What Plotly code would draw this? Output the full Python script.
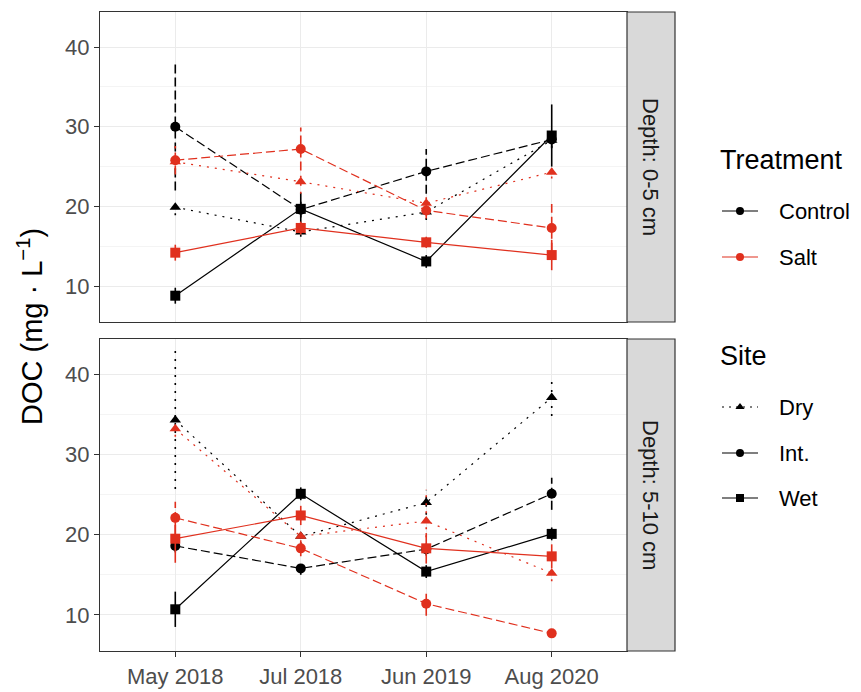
import plotly.graph_objects as go

# ---- data -------------------------------------------------------------
dates = ["May 2018", "Jul 2018", "Jun 2019", "Aug 2020"]
depths = ["Depth: 0-5 cm", "Depth: 5-10 cm"]
treatments = ["Control", "Salt"]
sites = ["Dry", "Int.", "Wet"]

# Depth 0-5 cm: mean DOC (mg/L) and error
control_dry_top = [19.9, 16.8, 19.3, 28.3]
control_dry_top_err = [1.0, 0.6, 1.0, 1.0]
control_int_top = [30.0, 19.6, 24.4, 28.4]
control_int_top_err = [8.0, 1.0, 2.8, 1.0]
control_wet_top = [8.8, 19.7, 13.1, 28.9]
control_wet_top_err = [1.0, 2.0, 0.8, 3.9]
salt_dry_top = [25.6, 23.1, 20.4, 24.3]
salt_dry_top_err = [1.0, 1.5, 1.5, 0.8]
salt_int_top = [25.8, 27.2, 19.5, 17.3]
salt_int_top_err = [1.8, 2.7, 1.0, 3.0]
salt_wet_top = [14.2, 17.3, 15.5, 13.9]
salt_wet_top_err = [1.0, 0.8, 0.7, 1.9]

# Depth 5-10 cm
control_dry_bot = [34.3, 19.8, 24.0, 37.1]
control_dry_bot_err = [8.6, 1.0, 1.5, 2.3]
control_int_bot = [18.6, 15.8, 18.2, 25.1]
control_int_bot_err = [0.8, 0.8, 0.8, 2.0]
control_wet_bot = [10.7, 25.1, 15.4, 20.1]
control_wet_bot_err = [2.2, 0.8, 0.8, 0.8]
salt_dry_bot = [33.2, 19.8, 21.7, 15.2]
salt_dry_bot_err = [1.0, 1.0, 4.0, 1.0]
salt_int_bot = [22.1, 18.3, 11.4, 7.7]
salt_int_bot_err = [2.0, 1.0, 1.5, 0.5]
salt_wet_bot = [19.5, 22.4, 18.3, 17.3]
salt_wet_bot_err = [3.0, 1.2, 1.9, 1.5]

y_ticks = [10, 20, 30, 40]

# ---- styling ----------------------------------------------------------
W, H = 861, 692
FONT = "Liberation Sans, Arial, sans-serif"
TICK_COL = "#4D4D4D"
TEXT_COL = "#1A1A1A"
FRAME_COL = "#333333"
colors = {"Control": "#000000", "Salt": "#E0301E"}
symbols = {"Dry": "triangle-up", "Int.": "circle", "Wet": "square"}
dashes = {"Dry": "2px,6px", "Int.": "9px,4px", "Wet": "solid"}

# panel placement (pixels)
PX_L, PX_R = 100, 627
STRIP_R = 675
panels_px = [(12, 322), (339, 651)]


def px_x(p):
    return p / W


def px_y(p):
    return 1 - p / H


series = [
    (0, "Control", "Dry", control_dry_top, control_dry_top_err),
    (0, "Control", "Int.", control_int_top, control_int_top_err),
    (0, "Control", "Wet", control_wet_top, control_wet_top_err),
    (0, "Salt", "Dry", salt_dry_top, salt_dry_top_err),
    (0, "Salt", "Int.", salt_int_top, salt_int_top_err),
    (0, "Salt", "Wet", salt_wet_top, salt_wet_top_err),
    (1, "Control", "Dry", control_dry_bot, control_dry_bot_err),
    (1, "Control", "Int.", control_int_bot, control_int_bot_err),
    (1, "Control", "Wet", control_wet_bot, control_wet_bot_err),
    (1, "Salt", "Dry", salt_dry_bot, salt_dry_bot_err),
    (1, "Salt", "Int.", salt_int_bot, salt_int_bot_err),
    (1, "Salt", "Wet", salt_wet_bot, salt_wet_bot_err),
]

fig = go.Figure()

for panel, trt, site, vals, errs in series:
    xa = "x" if panel == 0 else "x2"
    ya = "y" if panel == 0 else "y2"
    col = colors[trt]
    # error bars drawn with the site's line type
    ex, ey = [], []
    for d, v, e in zip(dates, vals, errs):
        ex += [d, d, None]
        ey += [v - e, v + e, None]
    fig.add_trace(go.Scatter(
        x=ex, y=ey, mode="lines", xaxis=xa, yaxis=ya,
        line=dict(color=col, width=1.6, dash=dashes[site]),
        showlegend=False, hoverinfo="skip"))
    fig.add_trace(go.Scatter(
        x=dates, y=vals, mode="lines+markers", xaxis=xa, yaxis=ya,
        line=dict(color=col, width=1.2, dash=dashes[site]),
        marker=dict(symbol=symbols[site], size=10, color=col),
        name=f"{trt} {site}", showlegend=False))

# ---- axes -------------------------------------------------------------
common_x = dict(
    type="category", categoryorder="array", categoryarray=dates,
    range=[-0.6, 3.6], domain=[px_x(PX_L), px_x(PX_R)],
    showgrid=True, gridcolor="#EBEBEB", gridwidth=1,
    showline=True, mirror=True, linecolor=FRAME_COL, linewidth=1.2,
    zeroline=False,
)
common_y = dict(
    range=[5.5, 44.4], tickvals=y_ticks,
    showgrid=True, gridcolor="#EBEBEB", gridwidth=1,
    minor=dict(showgrid=True, gridcolor="#F4F4F4", gridwidth=0.6, dtick=5, tick0=5),
    showline=True, mirror=True, linecolor=FRAME_COL, linewidth=1.2,
    zeroline=False, ticks="outside", ticklen=5, tickwidth=1.2, tickcolor=FRAME_COL,
    tickfont=dict(family=FONT, size=22, color=TICK_COL),
)

fig.update_layout(
    xaxis=dict(common_x, anchor="y", showticklabels=False, ticks=""),
    xaxis2=dict(common_x, anchor="y2", ticks="outside", ticklen=5, tickwidth=1.2,
                tickcolor=FRAME_COL,
                tickfont=dict(family=FONT, size=22, color=TICK_COL)),
    yaxis=dict(common_y, anchor="x",
               domain=[px_y(panels_px[0][1]), px_y(panels_px[0][0])]),
    yaxis2=dict(common_y, anchor="x2",
                domain=[px_y(panels_px[1][1]), px_y(panels_px[1][0])]),
)

# facet strips
shapes = []
annotations = []
for (top, bot), label in zip(panels_px, depths):
    shapes.append(dict(
        type="rect", xref="paper", yref="paper",
        x0=px_x(PX_R), x1=px_x(STRIP_R), y0=px_y(bot), y1=px_y(top),
        fillcolor="#D9D9D9", line=dict(color=FRAME_COL, width=1.2), layer="above"))
    annotations.append(dict(
        text=label, xref="paper", yref="paper",
        x=px_x((PX_R + STRIP_R) / 2), y=px_y((top + bot) / 2),
        xanchor="center", yanchor="middle",
        textangle=90, showarrow=False,
        font=dict(family=FONT, size=22, color=TEXT_COL)))

# y axis title
annotations.append(dict(
    text="DOC (mg · L<sup>−1</sup>)", xref="paper", yref="paper",
    x=px_x(30), y=px_y(327), xanchor="center", yanchor="middle",
    textangle=-90, showarrow=False,
    font=dict(family=FONT, size=29, color="#000000")))

# ---- legend (drawn on a helper axis in pixel units) -------------------
LEG_X0 = 700
fig.update_layout(
    xaxis3=dict(domain=[px_x(LEG_X0), 1], range=[LEG_X0, W], visible=False,
                anchor="y3", fixedrange=True),
    yaxis3=dict(domain=[0, 1], range=[H, 0], visible=False, anchor="x3",
                fixedrange=True),
)

legend_groups = [
    ("Treatment", 160, [
        ("Control", colors["Control"], "circle", "solid", 211),
        ("Salt", colors["Salt"], "circle", "solid", 257),
    ]),
    ("Site", 356, [
        ("Dry", "#000000", "triangle-up", "2px,5px", 407),
        ("Int.", "#000000", "circle", "solid", 453),
        ("Wet", "#000000", "square", "solid", 498),
    ]),
]
for title, ty, items in legend_groups:
    annotations.append(dict(
        text=title, xref="x3", yref="y3", x=718, y=ty, xanchor="left",
        yanchor="middle", showarrow=False,
        font=dict(family=FONT, size=27, color="#000000")))
    for name, col, sym, dash, iy in items:
        fig.add_trace(go.Scatter(
            x=[722, 758], y=[iy, iy], mode="lines", xaxis="x3", yaxis="y3",
            line=dict(color=col, width=1.2, dash=dash),
            showlegend=False, hoverinfo="skip"))
        fig.add_trace(go.Scatter(
            x=[740], y=[iy], mode="markers", xaxis="x3", yaxis="y3",
            marker=dict(symbol=sym, size=8, color=col),
            showlegend=False, hoverinfo="skip"))
        annotations.append(dict(
            text=name, xref="x3", yref="y3", x=777, y=iy, xanchor="left",
            yanchor="middle", showarrow=False,
            font=dict(family=FONT, size=22, color="#000000")))

fig.update_layout(
    width=W, height=H, autosize=False,
    margin=dict(l=0, r=0, t=0, b=0),
    paper_bgcolor="white", plot_bgcolor="white",
    showlegend=False,
    shapes=shapes, annotations=annotations,
    font=dict(family=FONT),
)

fig.write_html("out.html")
